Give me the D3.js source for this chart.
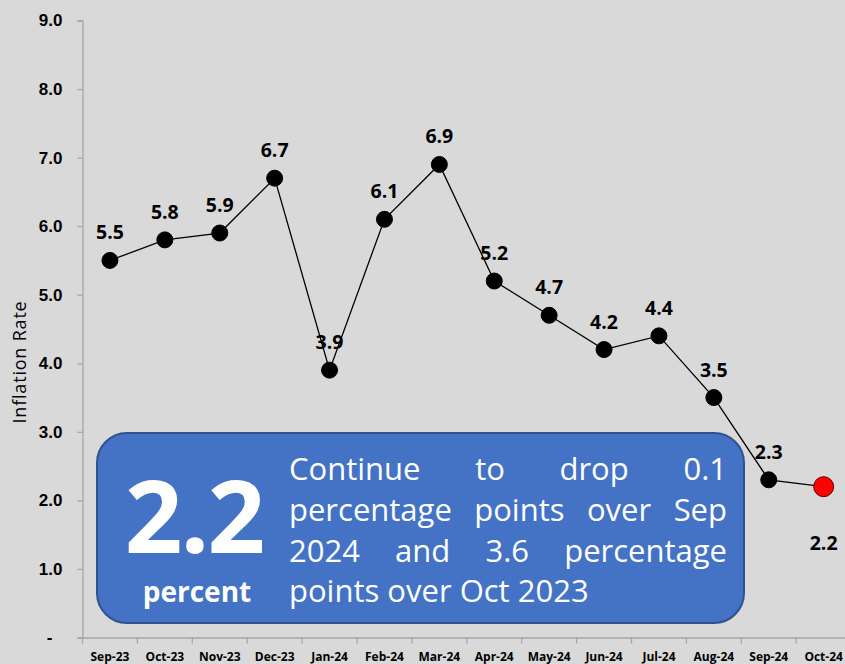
<!DOCTYPE html>
<html><head><meta charset="utf-8">
<script src="https://cdn.jsdelivr.net/npm/d3@7/dist/d3.min.js"></script>
<style>body{margin:0;background:#D9D9D9;}svg{display:block;}</style>
</head><body>
<svg id="c" width="845" height="664"></svg>
<script>
const months = ["Sep-23","Oct-23","Nov-23","Dec-23","Jan-24","Feb-24","Mar-24","Apr-24","May-24","Jun-24","Jul-24","Aug-24","Sep-24","Oct-24"];
const inflation = [5.5,5.8,5.9,6.7,3.9,6.1,6.9,5.2,4.7,4.2,4.4,3.5,2.3,2.2];
const yTicks = [0,1,2,3,4,5,6,7,8,9];
const yTitle = "Inflation Rate";
const bigValue = "2.2";
const bigUnit = "percent";
const noteLines = ["Continue to drop 0.1","percentage points over Sep","2024 and 3.6 percentage","points over Oct 2023"];

const svg = d3.select("#c");
svg.append("rect").attr("width",845).attr("height",664).attr("fill","#D9D9D9");

const x = d3.scaleBand().domain(months).range([82.5, 82.5 + 14*54.9]).padding(0);
const y = d3.scaleLinear().domain([0,9]).range([637.5, 20.5]);
const cx = d => x(d) + x.bandwidth()/2;

// Y axis
const yAxis = svg.append("g").attr("transform","translate(82.5,0)")
  .call(d3.axisLeft(y).tickValues(yTicks).tickSize(5).tickPadding(15)
    .tickFormat(d => d === 0 ? "-" : d3.format(".1f")(d)));
yAxis.select(".domain").attr("stroke","#A6A6A6").attr("stroke-width",1.3);
yAxis.selectAll(".tick line").attr("stroke","#A6A6A6").attr("stroke-width",1.3);
yAxis.selectAll(".tick text").attr("font-family","'Liberation Sans', Arial, sans-serif")
  .attr("font-weight","bold").attr("font-size",17).attr("fill","#000")
  .attr("dx", d => d === 0 ? -10 : 0);

// X axis
const xAxis = svg.append("g").attr("transform","translate(0,637.5)")
  .call(d3.axisBottom(x).tickSize(0).tickPadding(15));
xAxis.select(".domain").attr("stroke","#A6A6A6").attr("stroke-width",1.3);
xAxis.selectAll(".tick text").attr("font-family","'Open Sans', sans-serif")
  .attr("font-weight","bold").attr("font-size",12).attr("fill","#000");
const bounds = months.map(m => x(m)).concat([x.range()[1]]);
svg.append("g").selectAll("line").data(bounds).join("line")
  .attr("x1",d=>d).attr("x2",d=>d).attr("y1",637.5).attr("y2",643.5)
  .attr("stroke","#A6A6A6").attr("stroke-width",1.3);

// Y title
svg.append("text").attr("transform","translate(26,362) rotate(-90)")
  .attr("text-anchor","middle").attr("font-family","'Open Sans', sans-serif")
  .attr("font-size",18).attr("letter-spacing",0.8).attr("fill","#000").text(yTitle);

// Line
const pts = months.map((m,i)=>({m, v: inflation[i], i}));
svg.append("path").datum(pts)
  .attr("d", d3.line().x(d=>cx(d.m)).y(d=>y(d.v)))
  .attr("fill","none").attr("stroke","#000").attr("stroke-width",1.3);

// Markers
svg.append("g").selectAll("circle").data(pts).join("circle")
  .attr("cx",d=>cx(d.m)).attr("cy",d=>y(d.v))
  .attr("r",d=> d.i === pts.length-1 ? 10 : 8)
  .attr("fill",d=> d.i === pts.length-1 ? "#FF0000" : "#000")
  .attr("stroke",d=> d.i === pts.length-1 ? "#5A0000" : "#000").attr("stroke-width",1);

// Data labels
svg.append("g").selectAll("text").data(pts).join("text")
  .attr("x",d=>cx(d.m))
  .attr("y",d=> d.i === pts.length-1 ? y(d.v)+63 : y(d.v)-21)
  .attr("text-anchor","middle").attr("font-family","'Open Sans', sans-serif")
  .attr("font-weight","bold").attr("font-size",19.5).attr("fill","#000")
  .text(d=>d3.format(".1f")(d.v));

// Callout box
const box = svg.append("g");
box.append("rect").attr("x",97).attr("y",433).attr("width",647).attr("height",190)
  .attr("rx",30).attr("ry",30).attr("fill","#4472C4").attr("stroke","#2F528F").attr("stroke-width",2);
box.append("text").attr("x",194).attr("y",553).attr("text-anchor","middle")
  .attr("font-family","'Open Sans', sans-serif").attr("font-weight","bold")
  .attr("font-size",101).attr("fill","#fff").attr("letter-spacing",-2).text(bigValue);
box.append("text").attr("x",197).attr("y",602).attr("text-anchor","middle")
  .attr("font-family","'Open Sans', sans-serif").attr("font-weight","bold")
  .attr("font-size",28).attr("fill","#fff").text(bigUnit);

// Justified note text
const left = 289, right = 727, baselines = [480, 521, 562, 602];
let fs = 31;
const tmp = box.append("text").attr("font-family","'Open Sans', sans-serif").attr("font-size",fs).attr("visibility","hidden");
const spaceW = (() => { tmp.text("a a"); const a = tmp.node().getComputedTextLength(); tmp.text("aa"); return a - tmp.node().getComputedTextLength(); })();
const natural = noteLines.map(l => { tmp.text(l); return tmp.node().getComputedTextLength(); });
const maxNat = d3.max(natural);
if (maxNat > right - left) fs = fs * (right-left) / maxNat;
tmp.remove();
noteLines.forEach((line, li) => {
  const words = line.split(" ");
  const g = box.append("g");
  const ts = words.map(w => g.append("text").attr("font-family","'Open Sans', sans-serif")
    .attr("font-size",fs).attr("fill","#fff").attr("y",baselines[li]).text(w));
  const widths = ts.map(t => t.node().getComputedTextLength());
  const total = d3.sum(widths);
  const last = li === noteLines.length-1;
  const gap = last ? spaceW*fs/31 : (right-left-total)/(words.length-1);
  let cur = left;
  ts.forEach((t,k) => { t.attr("x",cur); cur += widths[k] + gap; });
});
</script>
</body></html>
